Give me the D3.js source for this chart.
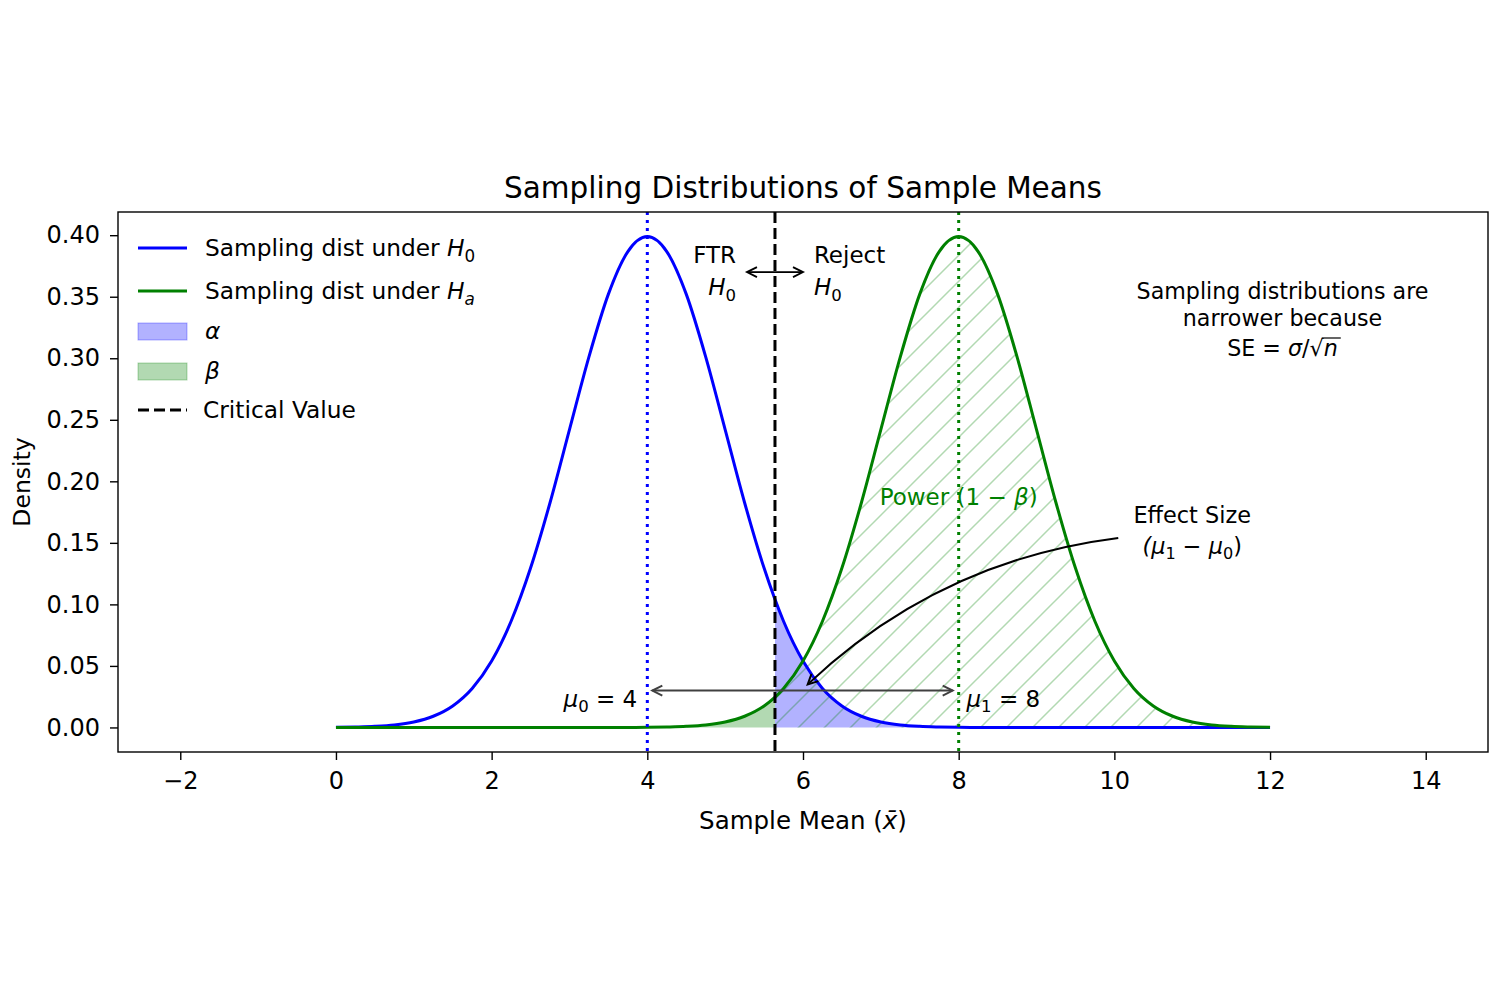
<!DOCTYPE html>
<html>
<head>
<meta charset="utf-8">
<script src="https://cdn.jsdelivr.net/npm/d3@7"></script>
<style>
  body { margin: 0; background: #fff; }
  text { font-family: "DejaVu Sans", sans-serif; fill: #000; }
</style>
</head>
<body>
<div id="chart"></div>
<script>
// sample means grid and the two sampling distributions
var xValues = [0, 0.25, 0.5, 0.75, 1, 1.25, 1.5, 1.75, 2, 2.25, 2.5, 2.75, 3, 3.25, 3.5, 3.75,
  4, 4.25, 4.5, 4.75, 5, 5.25, 5.5, 5.75, 6, 6.25, 6.5, 6.75, 7, 7.25, 7.5, 7.75,
  8, 8.25, 8.5, 8.75, 9, 9.25, 9.5, 9.75, 10, 10.25, 10.5, 10.75, 11, 11.25, 11.5, 11.75, 12];
var densityH0 = [0.0001, 0.0004, 0.0009, 0.0020, 0.0044, 0.0091, 0.0175, 0.0317, 0.0540, 0.0863,
  0.1295, 0.1826, 0.2420, 0.3011, 0.3521, 0.3867, 0.3989, 0.3867, 0.3521, 0.3011, 0.2420, 0.1826,
  0.1295, 0.0863, 0.0540, 0.0317, 0.0175, 0.0091, 0.0044, 0.0020, 0.0009, 0.0004, 0.0001,
  0, 0, 0, 0, 0, 0, 0, 0, 0, 0, 0, 0, 0, 0, 0, 0];
var densityHa = [0, 0, 0, 0, 0, 0, 0, 0, 0, 0, 0, 0, 0, 0, 0, 0,
  0.0001, 0.0004, 0.0009, 0.0020, 0.0044, 0.0091, 0.0175, 0.0317, 0.0540, 0.0863, 0.1295, 0.1826,
  0.2420, 0.3011, 0.3521, 0.3867, 0.3989, 0.3867, 0.3521, 0.3011, 0.2420, 0.1826, 0.1295, 0.0863,
  0.0540, 0.0317, 0.0175, 0.0091, 0.0044, 0.0020, 0.0009, 0.0004, 0.0001];
var mu0 = 4, mu1 = 8;
var criticalValue = 5.64;
var xTicks = [-2, 0, 2, 4, 6, 8, 10, 12, 14];
var yTicks = [0, 0.05, 0.10, 0.15, 0.20, 0.25, 0.30, 0.35, 0.40];

var blue = "#0000ff", green = "#008000";

// canvas
var margin = { top: 212, left: 118 };
var width = 1370, height = 540;

var svg = d3.select("#chart").append("svg")
  .attr("width", 1500).attr("height", 1000);
var defs = svg.append("defs");
var g = svg.append("g")
  .attr("transform", "translate(" + margin.left + "," + margin.top + ")");

var x = d3.scaleLinear().domain([-2.8, 14.8]).range([0, width]);
var y = d3.scaleLinear().domain([-0.01995, 0.41885]).range([height, 0]);

var pts0 = xValues.map(function (v, i) { return [v, densityH0[i]]; });
var ptsA = xValues.map(function (v, i) { return [v, densityHa[i]]; });

// helper for mathtext-like labels: [text, flags] with i = italic, s = subscript
function rich(sel, parts, size) {
  var shift = 0;
  parts.forEach(function (p) {
    var f = p[1] || "";
    var t = sel.append("tspan").text(p[0]);
    if (f.indexOf("i") >= 0) t.style("font-style", "italic");
    var target = 0;
    if (f.indexOf("s") >= 0) { t.attr("font-size", size * 0.72); target = size * 0.24; }
    if (target !== shift) t.attr("dy", target - shift);
    shift = target;
  });
  return sel;
}

function arrowHead(sel, tx, ty, dx, dy, color, w) {
  var len = Math.sqrt(dx * dx + dy * dy);
  var ux = dx / len, uy = dy / len;
  var L = 10, W = 5;
  var bx = tx - ux * L, by = ty - uy * L;
  sel.append("path")
    .attr("d", "M" + (bx - uy * W) + "," + (by + ux * W) + "L" + tx + "," + ty + "L" + (bx + uy * W) + "," + (by - ux * W))
    .attr("fill", "none").attr("stroke", color).attr("stroke-width", w);
}

// clip regions
defs.append("clipPath").attr("id", "plot")
  .append("rect").attr("width", width).attr("height", height);
defs.append("clipPath").attr("id", "right")
  .append("rect").attr("x", x(criticalValue)).attr("width", x(12) - x(criticalValue)).attr("height", height);
defs.append("clipPath").attr("id", "left")
  .append("rect").attr("x", x(0)).attr("width", x(criticalValue) - x(0)).attr("height", height);

var hs = 26;
defs.append("pattern").attr("id", "hatch")
  .attr("patternUnits", "userSpaceOnUse").attr("width", hs).attr("height", hs)
  .append("path")
  .attr("d", "M0," + hs + "L" + hs + ",0M" + (-hs / 2) + "," + (hs / 2) + "L" + (hs / 2) + "," + (-hs / 2) +
    "M" + (hs / 2) + "," + (hs * 1.5) + "L" + (hs * 1.5) + "," + (hs / 2))
  .attr("stroke", "rgba(0,128,0,0.3)").attr("stroke-width", 1.5);

var area = d3.area()
  .x(function (d) { return x(d[0]); })
  .y0(y(0))
  .y1(function (d) { return y(d[1]); })
  .curve(d3.curveMonotoneX);
var line = d3.line()
  .x(function (d) { return x(d[0]); })
  .y(function (d) { return y(d[1]); })
  .curve(d3.curveMonotoneX);

var plot = g.append("g").attr("clip-path", "url(#plot)");

// alpha, beta and power regions
plot.append("path").datum(pts0).attr("clip-path", "url(#right)")
  .attr("d", area).attr("fill", blue).attr("fill-opacity", 0.3);
plot.append("path").datum(ptsA).attr("clip-path", "url(#left)")
  .attr("d", area).attr("fill", green).attr("fill-opacity", 0.3);
plot.append("path").datum(ptsA).attr("clip-path", "url(#right)")
  .attr("d", area).attr("fill", "url(#hatch)");

// curves
plot.append("path").datum(pts0).attr("d", line)
  .attr("fill", "none").attr("stroke", blue).attr("stroke-width", 3);
plot.append("path").datum(ptsA).attr("d", line)
  .attr("fill", "none").attr("stroke", green).attr("stroke-width", 3);

// vertical reference lines
plot.append("line").attr("x1", x(mu0)).attr("x2", x(mu0)).attr("y1", 0).attr("y2", height)
  .attr("stroke", blue).attr("stroke-width", 3).attr("stroke-dasharray", "3,5");
plot.append("line").attr("x1", x(mu1)).attr("x2", x(mu1)).attr("y1", 0).attr("y2", height)
  .attr("stroke", green).attr("stroke-width", 3).attr("stroke-dasharray", "3,5");
plot.append("line").attr("x1", x(criticalValue)).attr("x2", x(criticalValue)).attr("y1", 0).attr("y2", height)
  .attr("stroke", "#000").attr("stroke-width", 3).attr("stroke-dasharray", "11,5");

// axes
var xAxis = g.append("g").attr("transform", "translate(0," + height + ")")
  .call(d3.axisBottom(x).tickValues(xTicks).tickFormat(function (d) { return d < 0 ? "\u2212" + (-d) : d; }).tickSize(8).tickPadding(12));
var yAxis = g.append("g")
  .call(d3.axisLeft(y).tickValues(yTicks).tickFormat(d3.format(".2f")).tickSize(8).tickPadding(10));
[xAxis, yAxis].forEach(function (a) {
  a.select(".domain").remove();
  a.selectAll(".tick line").attr("stroke", "#000").attr("stroke-width", 1.4);
  a.selectAll(".tick text").attr("font-size", 24).attr("font-family", "DejaVu Sans").attr("fill", "#000");
});
g.append("rect").attr("width", width).attr("height", height)
  .attr("fill", "none").attr("stroke", "#000").attr("stroke-width", 1.4);

// titles
svg.append("text").attr("x", margin.left + width / 2).attr("y", 198)
  .attr("text-anchor", "middle").attr("font-size", 29.5).text("Sampling Distributions of Sample Means");
rich(svg.append("text").attr("x", margin.left + width / 2).attr("y", 829)
  .attr("text-anchor", "middle").attr("font-size", 24.5),
  [["Sample Mean ("], ["x\u0304", "i"], [")"]], 24.5);
svg.append("text").attr("transform", "translate(30," + (margin.top + height / 2) + ") rotate(-90)")
  .attr("text-anchor", "middle").attr("font-size", 23.5).text("Density");

// annotations
var ann = g.append("g");
var ay = y(0.03);
ann.append("line").attr("x1", x(mu0) + 5).attr("x2", x(mu1) - 6).attr("y1", ay).attr("y2", ay)
  .attr("stroke", "#404040").attr("stroke-width", 2);
arrowHead(ann, x(mu0) + 5, ay, -1, 0, "#404040", 2);
arrowHead(ann, x(mu1) - 6, ay, 1, 0, "#404040", 2);
rich(ann.append("text").attr("x", x(3.87)).attr("y", ay + 16).attr("text-anchor", "end").attr("font-size", 23),
  [["\u03bc", "i"], ["0", "s"], [" = 4"]], 23);
rich(ann.append("text").attr("x", x(8.1)).attr("y", ay + 16).attr("font-size", 23),
  [["\u03bc", "i"], ["1", "s"], [" = 8"]], 23);

// FTR / Reject arrows
var fy = y(0.37);
var cx = x(criticalValue);
ann.append("line").attr("x1", cx).attr("x2", x(criticalValue - 0.36)).attr("y1", fy).attr("y2", fy)
  .attr("stroke", "#000").attr("stroke-width", 1.8);
arrowHead(ann, x(criticalValue - 0.36), fy, -1, 0, "#000", 1.8);
ann.append("line").attr("x1", cx).attr("x2", x(criticalValue + 0.36)).attr("y1", fy).attr("y2", fy)
  .attr("stroke", "#000").attr("stroke-width", 1.8);
arrowHead(ann, x(criticalValue + 0.36), fy, 1, 0, "#000", 1.8);

var ftr = ann.append("text").attr("text-anchor", "end").attr("font-size", 23).attr("fill", "#222");
ftr.append("tspan").attr("x", x(criticalValue - 0.5)).attr("y", fy - 9).text("FTR");
rich(ftr.append("tspan").attr("x", x(criticalValue - 0.5)).attr("y", fy + 23), [["H", "i"], ["0", "s"]], 23);
var rej = ann.append("text").attr("font-size", 23).attr("fill", "#222");
rej.append("tspan").attr("x", x(criticalValue + 0.5)).attr("y", fy - 9).text("Reject");
rich(rej.append("tspan").attr("x", x(criticalValue + 0.5)).attr("y", fy + 23), [["H", "i"], ["0", "s"]], 23);

// power label
rich(ann.append("text").attr("x", x(mu1)).attr("y", y(0.187) + 8).attr("text-anchor", "middle")
  .attr("font-size", 23).style("fill", green),
  [["Power (1 \u2212 "], ["\u03b2", "i"], [")"]], 23);

// effect size label and curved arrow
var ex = x(11.0), ey = y(0.159);
var es = ann.append("text").attr("text-anchor", "middle").attr("font-size", 22.4).attr("fill", "#111");
es.append("tspan").attr("x", ex).attr("y", ey - 9).text("Effect Size");
var es2 = es.append("tspan").attr("x", ex).attr("y", ey + 22);
rich(es2, [["(\u03bc", "i"], ["1", "s"], [" \u2212 "], ["\u03bc", "i"], ["0", "s"], [")"]], 22.4);

var sx = x(10.05), sy = y(0.154), tx = x(6.06), ty = y(0.035);
var mx = (sx + tx) / 2, my = (sy + ty) / 2;
var ddx = tx - sx, ddy = ty - sy, dl = Math.sqrt(ddx * ddx + ddy * ddy);
var off = 56;
var qx = mx + (ddy / dl) * off, qy = my - (ddx / dl) * off;
if (qy > my) { qx = mx - (ddy / dl) * off; qy = my + (ddx / dl) * off; }
ann.append("path").attr("d", "M" + sx + "," + sy + "Q" + qx + "," + qy + " " + tx + "," + ty)
  .attr("fill", "none").attr("stroke", "#000").attr("stroke-width", 2);
arrowHead(ann, tx, ty, tx - qx, ty - qy, "#000", 2);

// SE note
var se = ann.append("text").attr("text-anchor", "middle").attr("font-size", 22.2).attr("fill", "#111");
var sex = width * 0.85, sey = height * 0.2;
se.append("tspan").attr("x", sex).attr("y", sey - 21).text("Sampling distributions are");
se.append("tspan").attr("x", sex).attr("y", sey + 6).text("narrower because");
var l3 = se.append("tspan").attr("x", sex).attr("y", sey + 36);
l3.append("tspan").text("SE = ");
l3.append("tspan").style("font-style", "italic").text("\u03c3");
l3.append("tspan").text("/\u221a");
var nT = l3.append("tspan").style("font-style", "italic").text("n");
var nb = nT.node().getBBox();
ann.append("line").attr("x1", nb.x - 2).attr("x2", nb.x + nb.width + 3)
  .attr("y1", nb.y + 3).attr("y2", nb.y + 3).attr("stroke", "#111").attr("stroke-width", 1.3);

// legend
var leg = g.append("g").attr("transform", "translate(20,0)");
var rows = [36, 79, 119, 159, 198];
leg.append("line").attr("x1", 0).attr("x2", 49).attr("y1", rows[0]).attr("y2", rows[0])
  .attr("stroke", blue).attr("stroke-width", 3);
leg.append("line").attr("x1", 0).attr("x2", 49).attr("y1", rows[1]).attr("y2", rows[1])
  .attr("stroke", green).attr("stroke-width", 3);
leg.append("rect").attr("x", 0).attr("y", rows[2] - 8).attr("width", 49).attr("height", 17)
  .attr("fill", blue).attr("fill-opacity", 0.3).attr("stroke", blue).attr("stroke-opacity", 0.3);
leg.append("rect").attr("x", 0).attr("y", rows[3] - 8).attr("width", 49).attr("height", 17)
  .attr("fill", green).attr("fill-opacity", 0.3).attr("stroke", green).attr("stroke-opacity", 0.3);
leg.append("line").attr("x1", 0).attr("x2", 49).attr("y1", rows[4]).attr("y2", rows[4])
  .attr("stroke", "#000").attr("stroke-width", 3).attr("stroke-dasharray", "11,5");
var lx = 67;
rich(leg.append("text").attr("x", lx).attr("y", rows[0] + 8).attr("font-size", 23.3).attr("fill", "#222"),
  [["Sampling dist under "], ["H", "i"], ["0", "s"]], 23.3);
rich(leg.append("text").attr("x", lx).attr("y", rows[1] + 8).attr("font-size", 23.3).attr("fill", "#222"),
  [["Sampling dist under "], ["H", "i"], ["a", "is"]], 23.3);
leg.append("text").attr("x", lx).attr("y", rows[2] + 8).attr("font-size", 23.3).style("font-style", "italic").text("\u03b1");
leg.append("text").attr("x", lx).attr("y", rows[3] + 8).attr("font-size", 23.3).style("font-style", "italic").text("\u03b2");
leg.append("text").attr("x", lx - 2).attr("y", rows[4] + 8).attr("font-size", 23.3).attr("fill", "#222").text("Critical Value");
</script>
</body>
</html>
